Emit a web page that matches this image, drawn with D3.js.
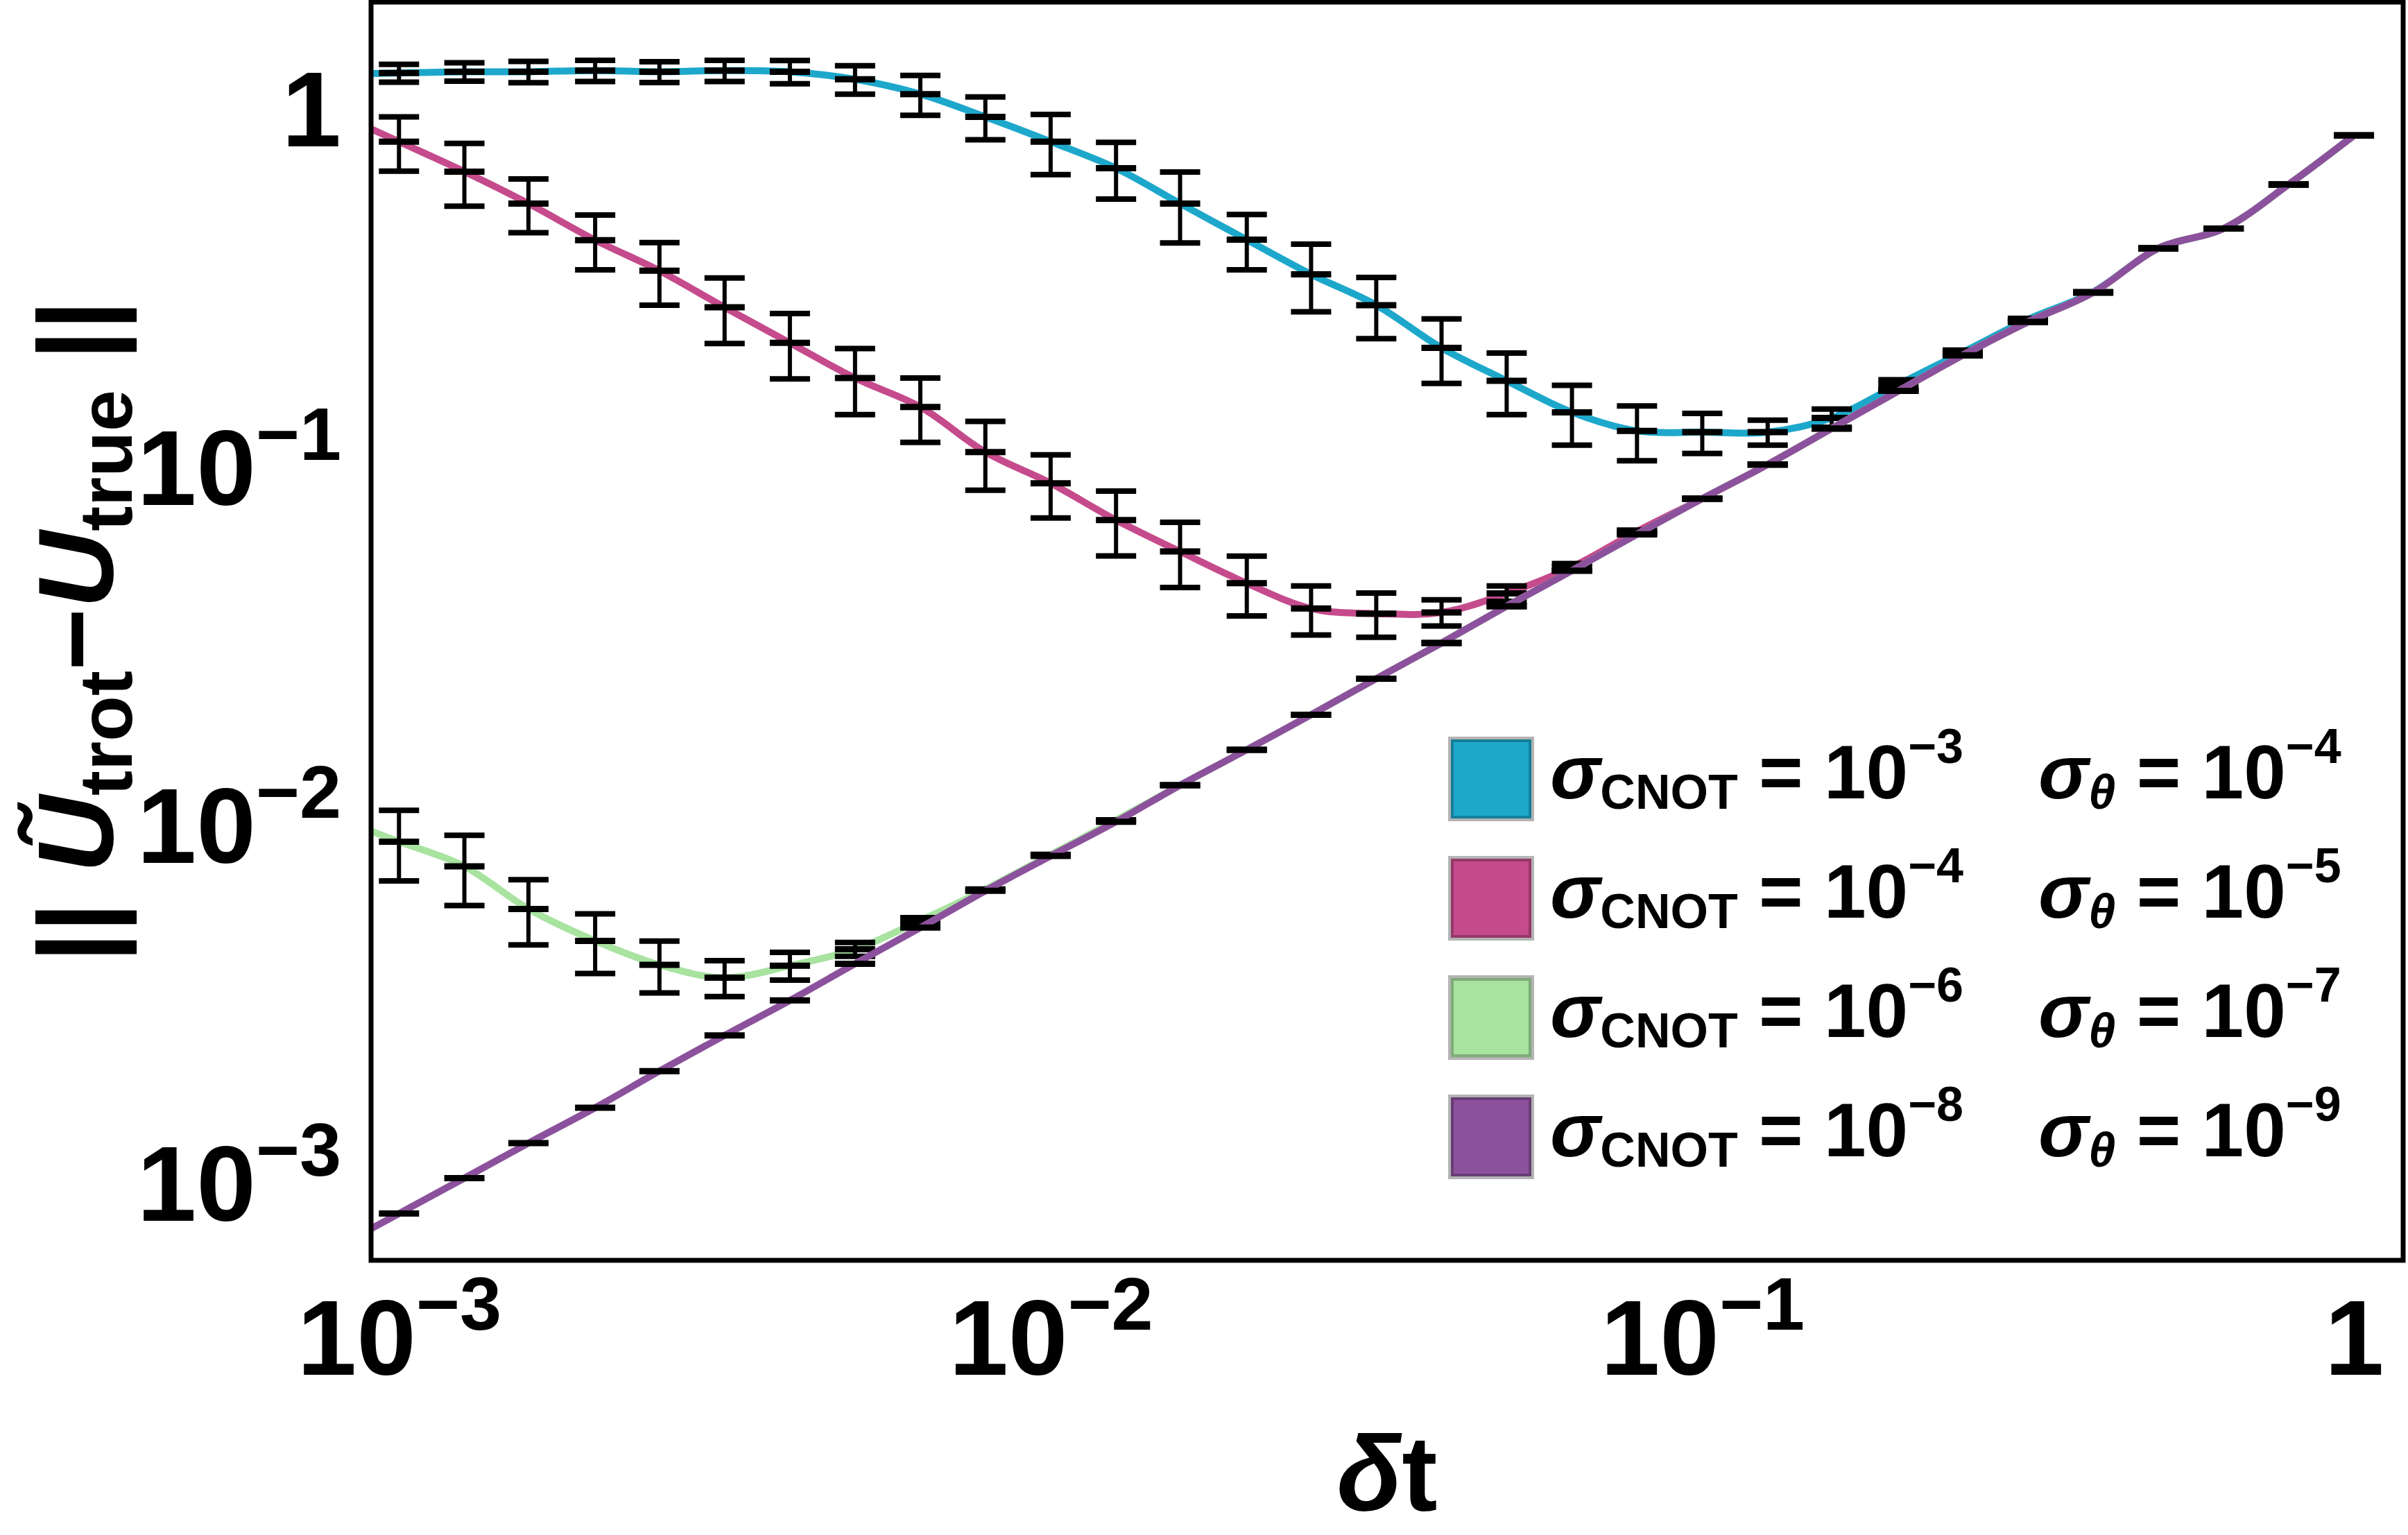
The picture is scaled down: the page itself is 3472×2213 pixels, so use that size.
<!DOCTYPE html>
<html>
<head>
<meta charset="utf-8">
<script src="https://cdn.jsdelivr.net/npm/d3@7"></script>
<style>
  body { margin: 0; background: #fff; }
  text { font-family: "Liberation Sans", Arial, sans-serif; font-weight: bold; }
</style>
</head>
<body>
<div class="canvas"></div>
<script>
// time steps (x values)
const dtValues = [0.001, 0.00126, 0.00158, 0.002, 0.00251, 0.00316, 0.00398, 0.00501, 0.00631, 0.00794,
                  0.01, 0.0126, 0.0158, 0.02, 0.0251, 0.0316, 0.0398, 0.0501, 0.0631, 0.0794,
                  0.1, 0.126, 0.158, 0.2, 0.251, 0.316, 0.398, 0.501, 0.631, 0.794, 1];

// sigma_CNOT = 1e-3, sigma_theta = 1e-4
const errCnot3 = [1.26, 1.27, 1.27, 1.28, 1.27, 1.28, 1.27, 1.21, 1.10, 0.95,
                  0.81, 0.683, 0.544, 0.431, 0.345, 0.283, 0.215, 0.174, 0.142, 0.126,
                  0.125, 0.125, 0.137, 0.170, 0.209, 0.258, 0.308, 0.408, 0.463, 0.615, 0.843];
const barCnot3 = [0.072, 0.075, 0.087, 0.087, 0.085, 0.087, 0.095, 0.11, 0.14, 0.13,
                  0.155, 0.123, 0.122, 0.076, 0.074, 0.055, 0.044, 0.034, 0.027, 0.022,
                  0.016, 0.010, 0.008, 0.005, 0.003, 0.002, 0, 0, 0, 0, 0];

// sigma_CNOT = 1e-4, sigma_theta = 1e-5
const errCnot4 = [0.81, 0.668, 0.544, 0.430, 0.353, 0.279, 0.222, 0.177, 0.147, 0.110,
                  0.090, 0.071, 0.058, 0.0473, 0.0402, 0.0389, 0.0392, 0.0443, 0.0525, 0.066,
                  0.0815, 0.1015, 0.128, 0.163, 0.205, 0.254, 0.307, 0.408, 0.463, 0.615, 0.843];
const barCnot4 = [0.14, 0.133, 0.093, 0.075, 0.07, 0.058, 0.046, 0.037, 0.03, 0.024,
                  0.018, 0.0146, 0.012, 0.009, 0.0063, 0.0055, 0.0033, 0.0022, 0.0012, 0.0006,
                  0, 0, 0, 0, 0, 0, 0, 0, 0, 0, 0];

// sigma_CNOT = 1e-6, sigma_theta = 1e-7
const errCnot6 = [0.00897, 0.00765, 0.00582, 0.00474, 0.00406, 0.00374, 0.00404, 0.00449, 0.0054, 0.0066,
                  0.00825, 0.0103, 0.0129, 0.0162, 0.0203, 0.0256, 0.0322, 0.0408, 0.0513, 0.0648,
                  0.0815, 0.1015, 0.128, 0.163, 0.205, 0.254, 0.307, 0.408, 0.463, 0.615, 0.843];
const barCnot6 = [0.002, 0.0017, 0.0012, 0.0009, 0.00067, 0.00043, 0.00036, 0.0002, 0.0001, 0,
                  0, 0, 0, 0, 0, 0, 0, 0, 0, 0,
                  0, 0, 0, 0, 0, 0, 0, 0, 0, 0, 0];

// sigma_CNOT = 1e-8, sigma_theta = 1e-9
const errCnot8 = [0.00082, 0.00103, 0.00129, 0.00162, 0.00205, 0.00258, 0.00323, 0.00409, 0.00516, 0.00654,
                  0.00818, 0.0102, 0.0129, 0.0162, 0.0203, 0.0256, 0.0322, 0.0408, 0.0513, 0.0648,
                  0.0815, 0.1015, 0.128, 0.163, 0.205, 0.254, 0.307, 0.408, 0.463, 0.615, 0.843];
const barCnot8 = [0, 0, 0, 0, 0, 0, 0, 0, 0, 0,
                  0, 0, 0, 0, 0, 0, 0, 0, 0, 0,
                  0, 0, 0, 0, 0, 0, 0, 0, 0, 0, 0];

const seriesColors = ['#1da8cb', '#c54b8c', '#a8e3a0', '#8c519c'];
const cnotExps = ['\u22123', '\u22124', '\u22126', '\u22128'];
const thetaExps = ['\u22124', '\u22125', '\u22127', '\u22129'];

const tickValues = [0.001, 0.01, 0.1, 1];
const tickBases = ['10', '10', '10', '1'];
const tickExps = ['\u22123', '\u22122', '\u22121', ''];

const series = [
  {vals: errCnot3, bars: barCnot3},
  {vals: errCnot4, bars: barCnot4},
  {vals: errCnot6, bars: barCnot6},
  {vals: errCnot8, bars: barCnot8}
];

const W = 3472, H = 2213;
const plot = {left: 535, right: 3465, top: 3, bottom: 1817};

const svg = d3.select('.canvas')
  .append('svg')
    .attr('width', W)
    .attr('height', H);

const x = d3.scaleLog().domain([0.000906, 1.19]).range([plot.left, plot.right]);
const y = d3.scaleLog().domain([0.000607, 1.988]).range([plot.bottom, plot.top]);

svg.append('clipPath').attr('id', 'plotclip')
  .append('rect')
    .attr('x', plot.left).attr('y', plot.top)
    .attr('width', plot.right - plot.left).attr('height', plot.bottom - plot.top);

const graph = svg.append('g').attr('clip-path', 'url(#plotclip)');

const line = d3.line()
  .x(d => x(d[0]))
  .y(d => y(d[1]))
  .curve(d3.curveCatmullRom.alpha(0.5));

series.forEach((s, i) => {
  const pts = dtValues.map((t, j) => [t, s.vals[j]]);
  // extend the fitted curve to the left frame, as in the original
  const l0 = Math.log10(pts[0][0]), l1 = Math.log10(pts[1][0]);
  const v0 = Math.log10(pts[0][1]), v1 = Math.log10(pts[1][1]);
  const lx = Math.log10(x.domain()[0]);
  const startVal = Math.pow(10, v0 + (v1 - v0) * (lx - l0) / (l1 - l0));
  const full = [[x.domain()[0], startVal]].concat(pts);

  graph.append('path')
    .datum(full)
    .attr('fill', 'none')
    .attr('stroke', seriesColors[i])
    .attr('stroke-width', 10)
    .attr('stroke-linejoin', 'round')
    .attr('d', line);

  const bars = graph.append('g').selectAll('g')
    .data(pts.map((p, j) => ({t: p[0], v: p[1], e: s.bars[j]})))
    .enter().append('g');

  const capW = 29;
  bars.filter(d => d.e > 0).append('line')
    .attr('x1', d => x(d.t)).attr('x2', d => x(d.t))
    .attr('y1', d => y(d.v + d.e)).attr('y2', d => y(d.v - d.e))
    .attr('stroke', '#000').attr('stroke-width', 6);
  bars.filter(d => d.e > 0).append('line')
    .attr('x1', d => x(d.t) - capW).attr('x2', d => x(d.t) + capW)
    .attr('y1', d => y(d.v + d.e)).attr('y2', d => y(d.v + d.e))
    .attr('stroke', '#000').attr('stroke-width', 8);
  bars.filter(d => d.e > 0).append('line')
    .attr('x1', d => x(d.t) - capW).attr('x2', d => x(d.t) + capW)
    .attr('y1', d => y(d.v - d.e)).attr('y2', d => y(d.v - d.e))
    .attr('stroke', '#000').attr('stroke-width', 8);
  bars.append('line')
    .attr('x1', d => x(d.t) - capW).attr('x2', d => x(d.t) + capW)
    .attr('y1', d => y(d.v)).attr('y2', d => y(d.v))
    .attr('stroke', '#000').attr('stroke-width', 9);
});

// frame
svg.append('rect')
  .attr('x', plot.left).attr('y', plot.top)
  .attr('width', plot.right - plot.left).attr('height', plot.bottom - plot.top)
  .attr('fill', 'none').attr('stroke', '#000').attr('stroke-width', 7);

// axes
const xAxis = d3.axisBottom(x).tickValues(tickValues).tickSize(0).tickFormat(() => '');
const yAxis = d3.axisLeft(y).tickValues(tickValues).tickSize(0).tickFormat(() => '');

const xGroup = svg.append('g').attr('transform', `translate(0, ${plot.bottom})`).call(xAxis);
const yGroup = svg.append('g').attr('transform', `translate(${plot.left}, 0)`).call(yAxis);
xGroup.select('.domain').remove();
yGroup.select('.domain').remove();

function fillTick(sel) {
  sel.each(function(d, i) {
    const t = d3.select(this).text(null)
      .attr('font-size', 154).attr('fill', '#000')
      .attr('font-family', '"Liberation Sans", Arial, sans-serif')
      .attr('font-weight', 'bold');
    t.append('tspan').text(tickBases[i]);
    if (tickExps[i]) t.append('tspan').attr('font-size', 108).attr('dy', -65).text(tickExps[i]);
  });
}
xGroup.selectAll('.tick text').attr('y', 165).attr('dy', 0).call(fillTick);
yGroup.selectAll('.tick text').attr('x', -43).attr('dy', 54).call(fillTick);

// axis labels
const xLabel = svg.append('text')
  .attr('x', (plot.left + plot.right) / 2).attr('y', 2178)
  .attr('text-anchor', 'middle').attr('font-size', 154);
xLabel.append('tspan').attr('font-style', 'italic').text('\u03b4');
xLabel.append('tspan').text('t');

const yLabel = svg.append('text')
  .attr('transform', `translate(163, ${(plot.top + plot.bottom) / 2}) rotate(-90)`)
  .attr('text-anchor', 'middle').attr('font-size', 154);
yLabel.append('tspan').text('|| ');
yLabel.append('tspan').attr('font-style', 'italic').text('U\u0303');
yLabel.append('tspan').attr('font-size', 108).attr('dy', 27).text('trot');
yLabel.append('tspan').attr('dy', -27).text('\u2212');
yLabel.append('tspan').attr('font-style', 'italic').text('U');
yLabel.append('tspan').attr('font-size', 108).attr('dy', 27).text('true');
yLabel.append('tspan').attr('dy', -27).text(' ||');

// legend
const legend = svg.append('g');
seriesColors.forEach((c, i) => {
  const cy = 1122 + i * 172;
  legend.append('rect')
    .attr('x', 2094).attr('y', cy - 54).attr('width', 112).attr('height', 110)
    .attr('fill', c).attr('stroke', d3.color(c).darker(0.8)).attr('stroke-width', 4);
  legend.append('rect')
    .attr('x', 2090).attr('y', cy - 58).attr('width', 120).attr('height', 118)
    .attr('fill', 'none').attr('stroke', '#b4b4b4').attr('stroke-width', 4);

  const base = cy + 29;
  const t1 = legend.append('text').attr('x', 2235).attr('y', base).attr('font-size', 109);
  t1.append('tspan').attr('font-style', 'italic').text('\u03c3');
  t1.append('tspan').attr('font-size', 70).attr('dy', 15).text('CNOT');
  t1.append('tspan').attr('dy', -15).text(' = 10');
  t1.append('tspan').attr('font-size', 70).attr('dy', -51).text(cnotExps[i]);

  const t2 = legend.append('text').attr('x', 2939).attr('y', base).attr('font-size', 109);
  t2.append('tspan').attr('font-style', 'italic').text('\u03c3');
  t2.append('tspan').attr('font-size', 70).attr('font-style', 'italic').attr('dy', 15).text('\u03b8');
  t2.append('tspan').attr('dy', -15).text(' = 10');
  t2.append('tspan').attr('font-size', 70).attr('dy', -51).text(thetaExps[i]);
});
</script>
</body>
</html>
